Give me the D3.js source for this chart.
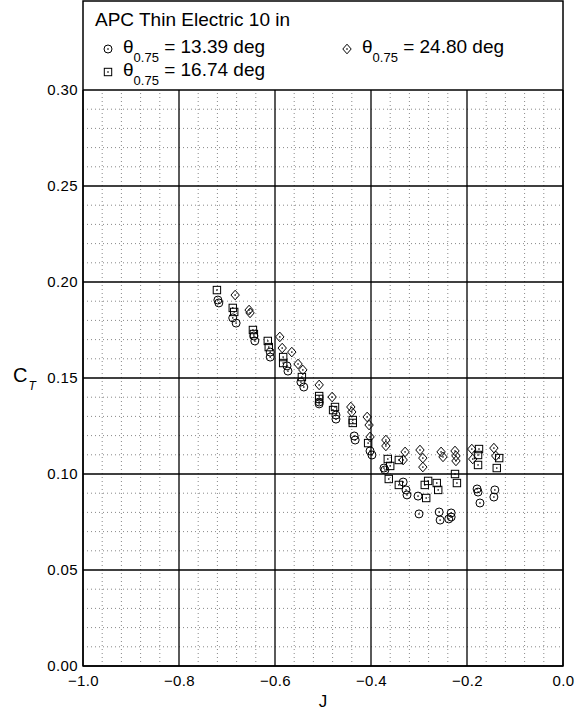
<!DOCTYPE html>
<html>
<head>
<meta charset="utf-8">
<script src="https://cdn.jsdelivr.net/npm/d3@7"></script>
<style>
  body { margin: 0; background: #fff; }
  text { font-family: "Liberation Sans", Arial, sans-serif; fill: #000; }
</style>
</head>
<body>
<div id="chart"></div>
<script>
// data: advance ratio J and thrust coefficient CT
const j1339 = [-0.719, -0.717, -0.688, -0.681, -0.644, -0.642, -0.610, -0.610, -0.575, -0.573,
   -0.546, -0.540, -0.508, -0.508, -0.473, -0.473, -0.435, -0.433, -0.402, -0.398,
   -0.373, -0.371, -0.333, -0.327, -0.325, -0.302, -0.300, -0.258, -0.256, -0.233,
   -0.233, -0.238, -0.179, -0.177, -0.173, -0.142, -0.144];
const ct1339 = [0.1906, 0.1891, 0.1813, 0.1786, 0.1719, 0.1693, 0.1635, 0.1609, 0.1563, 0.1536,
   0.1479, 0.1453, 0.1375, 0.1365, 0.1307, 0.1286, 0.1198, 0.1177, 0.1120, 0.1099,
   0.1031, 0.1021, 0.0958, 0.0917, 0.0891, 0.0885, 0.0792, 0.0802, 0.0760, 0.0797,
   0.0776, 0.0766, 0.0922, 0.0906, 0.0849, 0.0917, 0.0880];

const j1674 = [-0.721, -0.688, -0.685, -0.646, -0.644, -0.615, -0.613, -0.583, -0.583, -0.544,
   -0.508, -0.508, -0.475, -0.479, -0.438, -0.438, -0.406, -0.365, -0.360, -0.342,
   -0.363, -0.342, -0.281, -0.288, -0.263, -0.260, -0.285, -0.225, -0.221, -0.175,
   -0.177, -0.177, -0.133, -0.138];
const ct1674 = [0.1958, 0.1865, 0.1844, 0.1750, 0.1729, 0.1693, 0.1661, 0.1609, 0.1578, 0.1505,
   0.1406, 0.1391, 0.1349, 0.1333, 0.1281, 0.1266, 0.1161, 0.1078, 0.1042, 0.1073,
   0.0974, 0.0943, 0.0964, 0.0943, 0.0953, 0.0917, 0.0875, 0.1000, 0.0953, 0.1130,
   0.1099, 0.1047, 0.1083, 0.1031];

const j2480 = [-0.683, -0.654, -0.652, -0.590, -0.585, -0.565, -0.552, -0.542, -0.508, -0.481,
   -0.442, -0.440, -0.408, -0.404, -0.402, -0.369, -0.369, -0.329, -0.333, -0.298,
   -0.292, -0.292, -0.254, -0.250, -0.225, -0.223, -0.223, -0.190, -0.188, -0.144,
   -0.140];
const ct2480 = [0.1932, 0.1854, 0.1839, 0.1714, 0.1656, 0.1635, 0.1573, 0.1542, 0.1464, 0.1401,
   0.1349, 0.1323, 0.1297, 0.1255, 0.1193, 0.1177, 0.1146, 0.1115, 0.1073, 0.1125,
   0.1083, 0.1036, 0.1115, 0.1089, 0.1120, 0.1094, 0.1068, 0.1130, 0.1078, 0.1135,
   0.1094];

const xTicks = [-1.0, -0.8, -0.6, -0.4, -0.2, 0.0];
const yTicks = [0.00, 0.05, 0.10, 0.15, 0.20, 0.25, 0.30];
const legendTitle = "APC Thin Electric 10 in";
const legendLabels = ["13.39", "16.74", "24.80"];

// sizes
const wide = 577;
const high = 713;
const padLeft = 83, padRight = 563, frameTop = 1, plotBottom = 666, plotTop = 90;

const svg = d3.select("#chart")
   .append("svg")
   .attr("width", wide)
   .attr("height", high);

const x = d3.scaleLinear().domain([-1, 0]).range([padLeft, padRight]);
const y = d3.scaleLinear().domain([0, 0.30]).range([plotBottom, plotTop]);

// minor grid (dotted)
const xMinor = d3.range(-1, 0.0001, 0.04).filter((v) => Math.abs(v / 0.2 - Math.round(v / 0.2)) > 1e-6);
const yMinor = d3.range(0, 0.3001, 0.01).filter((v) => Math.abs(v / 0.05 - Math.round(v / 0.05)) > 1e-6);

svg.append("g")
   .selectAll("line")
   .data(xMinor)
   .join("line")
   .attr("x1", (d) => x(d)).attr("x2", (d) => x(d))
   .attr("y1", plotBottom).attr("y2", plotTop)
   .attr("stroke", "#888")
   .attr("stroke-width", 1)
   .attr("stroke-dasharray", "1,3");

svg.append("g")
   .selectAll("line")
   .data(yMinor)
   .join("line")
   .attr("x1", padLeft).attr("x2", padRight)
   .attr("y1", (d) => y(d)).attr("y2", (d) => y(d))
   .attr("stroke", "#888")
   .attr("stroke-width", 1)
   .attr("stroke-dasharray", "1,3");

// major grid
svg.append("g")
   .selectAll("line")
   .data(xTicks)
   .join("line")
   .attr("x1", (d) => x(d)).attr("x2", (d) => x(d))
   .attr("y1", plotBottom).attr("y2", plotTop)
   .attr("stroke", "#000")
   .attr("stroke-width", 1.3);

svg.append("g")
   .selectAll("line")
   .data(yTicks)
   .join("line")
   .attr("x1", padLeft).attr("x2", padRight)
   .attr("y1", (d) => y(d)).attr("y2", (d) => y(d))
   .attr("stroke", "#000")
   .attr("stroke-width", 1.3);

// frame
svg.append("rect")
   .attr("x", padLeft).attr("y", frameTop)
   .attr("width", padRight - padLeft).attr("height", plotBottom - frameTop)
   .attr("fill", "none")
   .attr("stroke", "#000")
   .attr("stroke-width", 1.5);

// axes
const xAxis = d3.axisBottom(x).tickValues(xTicks).tickSize(0).tickPadding(9)
   .tickFormat(d3.format(".1f"));
const gx = svg.append("g")
   .attr("transform", `translate(0,${plotBottom})`)
   .call(xAxis);
gx.select(".domain").remove();
gx.selectAll("text")
   .style("font-size", "15px")
   .style("letter-spacing", "0.4px")
   .style("font-family", '"Liberation Sans", Arial, sans-serif');

const yAxis = d3.axisLeft(y).tickValues(yTicks).tickSize(0).tickPadding(5)
   .tickFormat(d3.format(".2f"));
const gy = svg.append("g")
   .attr("transform", `translate(${padLeft},0)`)
   .call(yAxis);
gy.select(".domain").remove();
gy.selectAll("text")
   .style("font-size", "15px")
   .style("letter-spacing", "0.4px")
   .style("font-family", '"Liberation Sans", Arial, sans-serif');

// axis labels
svg.append("text")
   .attr("x", 323)
   .attr("y", 707)
   .attr("text-anchor", "middle")
   .style("font-size", "17px")
   .text("J");

const ctLabel = svg.append("text")
   .attr("x", 13)
   .attr("y", 382)
   .style("font-size", "20px")
   .text("C");
ctLabel.append("tspan")
   .attr("dy", 8)
   .attr("dx", 1)
   .style("font-size", "12px")
   .style("font-style", "italic")
   .text("T");

// markers
function circleMark(g) {
   g.append("circle").attr("r", 4).attr("fill", "none").attr("stroke", "#000").attr("stroke-width", 1);
}
function squareMark(g) {
   g.append("rect").attr("x", -3.7).attr("y", -3.7).attr("width", 7.4).attr("height", 7.4)
      .attr("fill", "none").attr("stroke", "#000").attr("stroke-width", 1);
}
function diamondMark(g) {
   g.append("path").attr("d", "M0,-4.8L4.2,0L0,4.8L-4.2,0Z")
      .attr("fill", "none").attr("stroke", "#000").attr("stroke-width", 1);
}
function centerDot(g) {
   g.append("rect").attr("x", -0.7).attr("y", -0.7).attr("width", 1.4).attr("height", 1.4).attr("fill", "#000");
}

const series = [
   { js: j1339, cts: ct1339, mark: circleMark },
   { js: j1674, cts: ct1674, mark: squareMark },
   { js: j2480, cts: ct2480, mark: diamondMark }
];

series.forEach((s) => {
   const pts = svg.append("g")
      .selectAll("g")
      .data(s.js.map((v, i) => [v, s.cts[i]]))
      .join("g")
      .attr("transform", (d) => `translate(${x(d[0])},${y(d[1])})`);
   pts.each(function () {
      const g = d3.select(this);
      s.mark(g);
      centerDot(g);
   });
});

// legend
svg.append("text")
   .attr("x", 95)
   .attr("y", 26)
   .style("font-size", "19px")
   .text(legendTitle);

const legendPos = [
   { mx: 108, my: 49, tx: 123, ty: 53 },
   { mx: 108, my: 72, tx: 123, ty: 76 },
   { mx: 347, my: 49, tx: 362, ty: 53 }
];

legendPos.forEach((p, i) => {
   const g = svg.append("g").attr("transform", `translate(${p.mx},${p.my})`);
   series[i].mark(g);
   centerDot(g);

   const t = svg.append("text")
      .attr("x", p.tx)
      .attr("y", p.ty)
      .style("font-size", "19px")
      .text("\u03b8");
   t.append("tspan")
      .attr("dy", 9)
      .style("font-size", "13px")
      .text("0.75");
   t.append("tspan")
      .attr("dy", -9)
      .text(" = " + legendLabels[i] + " deg");
});
</script>
</body>
</html>
